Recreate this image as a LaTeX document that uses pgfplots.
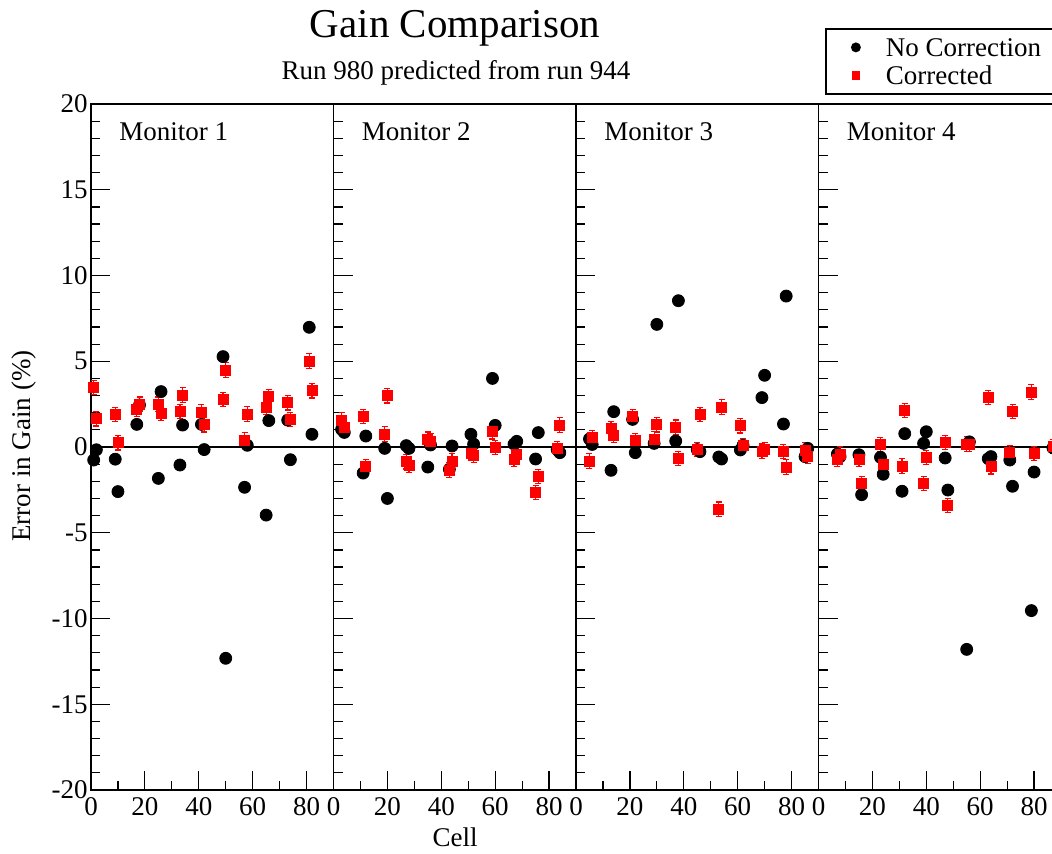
\documentclass[border=0pt]{standalone}
\usepackage{fontspec}
\setmainfont{Liberation Serif}
\usepackage{pgfplots}
\pgfplotsset{compat=1.18}
\usepackage{pgfplotstable}

\pgfplotstableread{
x y
1 -0.76
2 -0.16
9 -0.71
10 -2.60
17 1.32
18 2.45
25 -1.83
26 3.23
33 -1.05
34 1.28
41 1.32
42 -0.15
49 5.27
50 -12.32
57 -2.35
58 0.10
65 -3.97
66 1.54
73 1.57
74 -0.74
81 6.98
82 0.74
}\blackA
\pgfplotstableread{
x y e
1 3.46 0.42
2 1.65 0.42
9 1.90 0.42
10 0.25 0.42
17 2.18 0.42
18 2.50 0.42
25 2.49 0.42
26 1.98 0.42
33 2.08 0.42
34 3.03 0.42
41 2.04 0.42
42 1.30 0.42
49 2.76 0.42
50 4.49 0.42
57 0.41 0.42
58 1.92 0.42
65 2.31 0.42
66 2.93 0.42
73 2.58 0.42
74 1.60 0.42
81 5.01 0.42
82 3.28 0.42
}\redA
\pgfplotstableread{
x y
3 1.03
4 0.85
11 -1.52
12 0.64
19 -0.08
20 -3.00
27 0.08
28 -0.08
35 -1.17
36 0.12
43 -1.30
44 0.06
51 0.74
52 0.17
59 4.00
60 1.26
67 0.17
68 0.33
75 -0.70
76 0.84
83 -0.15
84 -0.33
}\blackB
\pgfplotstableread{
x y e
3 1.57 0.42
4 1.15 0.42
11 1.77 0.42
12 -1.13 0.42
19 0.76 0.42
20 2.99 0.42
27 -0.86 0.42
28 -1.05 0.42
35 0.45 0.42
36 0.35 0.42
43 -1.34 0.42
44 -0.82 0.42
51 -0.37 0.42
52 -0.47 0.42
59 0.89 0.42
60 -0.02 0.42
67 -0.70 0.42
68 -0.41 0.42
75 -2.66 0.42
76 -1.73 0.42
83 -0.08 0.42
84 1.28 0.42
}\redB
\pgfplotstableread{
x y
5 0.47
6 0.15
13 -1.36
14 2.06
21 1.61
22 -0.33
29 0.21
30 7.15
37 0.35
38 8.53
45 -0.15
46 -0.27
53 -0.58
54 -0.70
61 -0.17
62 0.10
69 2.88
70 4.18
77 1.34
78 8.80
85 -0.56
86 -0.08
}\blackC
\pgfplotstableread{
x y e
5 -0.82 0.42
6 0.55 0.42
13 1.07 0.42
14 0.70 0.42
21 1.77 0.42
22 0.37 0.42
29 0.47 0.42
30 1.30 0.42
37 1.15 0.42
38 -0.66 0.42
45 -0.14 0.42
46 1.89 0.42
53 -3.63 0.42
54 2.33 0.42
61 1.24 0.42
62 0.08 0.42
69 -0.23 0.42
70 -0.14 0.42
77 -0.27 0.42
78 -1.17 0.42
85 -0.18 0.42
86 -0.56 0.42
}\redC
\pgfplotstableread{
x y
7 -0.41
8 -0.56
15 -0.45
16 -2.78
23 -0.60
24 -1.59
31 -2.58
32 0.78
39 0.21
40 0.89
47 -0.64
48 -2.51
55 -11.80
56 0.30
63 -0.68
64 -0.56
71 -0.76
72 -2.29
79 -9.54
80 -1.46
87 -0.05
}\blackD
\pgfplotstableread{
x y e
7 -0.72 0.42
8 -0.41 0.42
15 -0.72 0.42
16 -2.14 0.42
23 0.14 0.42
24 -0.99 0.42
31 -1.11 0.42
32 2.12 0.42
39 -2.12 0.42
40 -0.62 0.42
47 0.27 0.42
48 -3.40 0.42
55 0.17 0.42
56 0.14 0.42
63 2.88 0.42
64 -1.15 0.42
71 -0.31 0.42
72 2.08 0.42
79 3.21 0.42
80 -0.37 0.42
87 0.04 0.42
}\redD

\newcommand{\txt}{\fontsize{13.5}{16}\selectfont}
\tikzset{mon/.style={anchor=base west, inner sep=0pt, font=\txt}}

\pgfplotsset{
  panel/.style={
    at={(#1,31.5pt)}, anchor=south west,
    scale only axis, width=121.25pt, height=343pt,
    xmin=0, xmax=90, ymin=-20, ymax=20,
    xtick={0,20,40,60,80}, xticklabels={0,20,40,60,80},
    minor xtick={10,30,50,70},
    ytick={-20,-15,-10,-5,0,5,10,15,20},
    minor y tick num=4,
    tick pos=left, tick align=inside,
    major tick length=9.5pt, minor tick length=4.5pt,
    every tick/.style={black, line width=0.6pt},
    axis line style={line width=0.9pt},
    tick label style={font=\txt},
    yticklabel style={anchor=east, inner sep=0pt, xshift=-1.5pt},
    xticklabel style={anchor=north, inner sep=0pt, yshift=-3.5pt},
    extra y ticks={0}, extra y tick labels={},
    extra y tick style={grid=major, major grid style={black, line width=0.9pt}},
  },
  blk/.style={only marks, mark=*, mark size=3pt, black},
  rd/.style={only marks, mark=square*, mark size=2.5pt, red,
    error bars/.cd, y dir=both, y explicit,
    error bar style={line width=0.6pt, red},
    error mark options={rotate=90, red, mark size=1.5pt, line width=0.6pt},
    /pgfplots/.cd},
}

\begin{document}
\begin{tikzpicture}
\begin{axis}[panel=45.5pt,
  yticklabels={-20,-15,-10,-5,0,5,10,15,20}]
  \addplot[blk] table[x=x,y=y] {\blackA};
  \addplot[rd] table[x=x,y=y,y error=e] {\redA};
  \node[mon] at (rel axis cs:0.1155,0.9475) {Monitor 1};
\end{axis}
\begin{axis}[panel=166.75pt, yticklabels={}]
  \addplot[blk] table[x=x,y=y] {\blackB};
  \addplot[rd] table[x=x,y=y,y error=e] {\redB};
  \node[mon] at (rel axis cs:0.1155,0.9475) {Monitor 2};
\end{axis}
\begin{axis}[panel=288pt, yticklabels={}]
  \addplot[blk] table[x=x,y=y] {\blackC};
  \addplot[rd] table[x=x,y=y,y error=e] {\redC};
  \node[mon] at (rel axis cs:0.1155,0.9475) {Monitor 3};
\end{axis}
\begin{axis}[panel=409.25pt, yticklabels={},
  legend style={at={(0.0268,1.1108)}, anchor=north west, draw=black,
    line width=0.9pt, inner xsep=6.5pt, inner ysep=2.25pt, row sep=0pt,
    column sep=6.5pt, font=\txt,
    nodes={inner sep=0pt, text height=11.5pt, text depth=2.5pt}},
  legend cell align=left,
  legend image code/.code={\path[draw=none, fill=none] (0pt,-3pt) rectangle (17pt,3pt);
    \draw[#1, mark repeat=2, mark phase=2] plot coordinates {(0pt,0pt) (8.5pt,0pt) (17pt,0pt)};}]
  \addplot[legend image post style={mark size=2pt}, blk] table[x=x,y=y] {\blackD};
  \addlegendentry{\makebox[95pt][l]{No Correction}}
  \addplot[legend image post style={mark size=1.75pt}, rd] table[x=x,y=y,y error=e] {\redD};
  \addlegendentry{Corrected}
  \node[mon] at (rel axis cs:0.1155,0.9475) {Monitor 4};
\end{axis}
\node[anchor=base, font=\fontsize{20.5}{24}\selectfont] at (227.5pt,407.5pt) {Gain Comparison};
\node[anchor=base, font=\txt] at (228pt,386.5pt) {Run 980 predicted from run 944};
\node[anchor=base, rotate=90, font=\txt] at (15pt,203.5pt) {Error in Gain (\%)};
\node[anchor=base, font=\txt] at (227.5pt,3.5pt) {Cell};
\pgfresetboundingbox
\path[use as bounding box] (0,0) rectangle (526pt,426.5pt);
\end{tikzpicture}
\end{document}
